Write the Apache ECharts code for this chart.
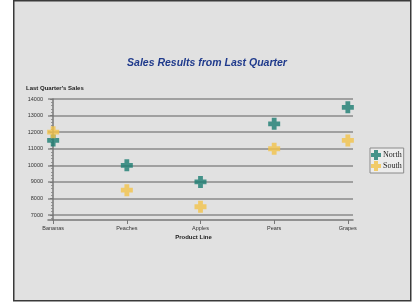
<!DOCTYPE html>
<html><head><meta charset="utf-8">
<script src="https://cdn.jsdelivr.net/npm/echarts@6/dist/echarts.min.js"></script>
<style>html,body{margin:0;padding:0;background:#fff;}#c{width:414px;height:306px;}</style>
</head><body><div id="c"></div>
<script>
const categories = ['Bananas', 'Peaches', 'Apples', 'Pears', 'Grapes'];
const northSales = [11500, 10000, 9000, 12500, 13500];
const southSales = [12000, 8500, 7500, 11000, 11500];
const yTicks = [7000, 8000, 9000, 10000, 11000, 12000, 13000, 14000];
const titleText = 'Sales Results from Last Quarter';
const yTitle = "Last Quarter's Sales";
const xTitle = 'Product Line';

const chart = echarts.init(document.getElementById('c'));
const cross = 'path://M3,0h4v3h3v4h-3v3h-4v-3h-3v-4h3z';
const toPts = arr => arr.map((v, i) => [i, v]);
chart.setOption({
  animation: false,
  backgroundColor: '#ffffff',
  graphic: [{
    type: 'rect', left: 13, top: 0, z: -10,
    shape: { width: 397, height: 300 },
    style: { fill: '#e1e1e1', stroke: '#3a3a3a', lineWidth: 1.5 }
  }, {
    type: 'text', left: 26, top: 85,
    style: { text: yTitle, font: 'bold 6px "Liberation Sans", Arial', fill: '#222' }
  }],
  title: {
    text: titleText, left: 'center', top: 53,
    textStyle: { fontFamily: '"Liberation Sans", Arial', fontSize: 10.5, fontWeight: 'bold', fontStyle: 'italic', color: '#1f3a8c' }
  },
  legend: {
    orient: 'vertical', left: 370, top: 148,
    itemWidth: 10, itemHeight: 10, itemGap: 1,
    padding: [2, 2, 2, 1],
    backgroundColor: '#ececec', borderColor: '#8a8a8a', borderWidth: 1,
    textStyle: { fontFamily: '"Liberation Serif", "Times New Roman", serif', fontSize: 8, color: '#222', padding: [0, 0, 0, -3] },
    data: [{ name: 'North', icon: cross }, { name: 'South', icon: cross }]
  },
  grid: { left: 48, right: 61, top: 99, bottom: 86 },
  xAxis: {
    type: 'value', min: -0.07, max: 4.07,
    name: xTitle, nameLocation: 'middle', nameGap: 14,
    nameTextStyle: { fontFamily: '"Liberation Sans", Arial', fontSize: 6, fontWeight: 'bold', color: '#222', padding: [0, 14, 0, 0] },
    axisLine: { show: true, lineStyle: { color: '#777', width: 1.5 } },
    axisTick: { show: true, length: 4, customValues: [0, 1, 2, 3, 4], lineStyle: { color: '#777' } },
    axisLabel: { customValues: [0, 1, 2, 3, 4], formatter: v => categories[Math.round(v)], fontFamily: '"Liberation Sans", Arial', fontSize: 5.5, color: '#333', margin: 5 },
    splitLine: { show: false }
  },
  yAxis: {
    type: 'value', min: 6700, max: 14000,
    axisLine: { show: true, lineStyle: { color: '#777', width: 1.5 } },
    axisTick: { show: true, length: 3, customValues: yTicks, lineStyle: { color: '#777' } },
    minorTick: { show: true, splitNumber: 5, length: 2, lineStyle: { color: '#888' } },
    axisLabel: { customValues: yTicks, formatter: v => String(v), fontFamily: '"Liberation Sans", Arial', fontSize: 5.5, color: '#333', margin: 5 },
    splitLine: { show: true, lineStyle: { color: '#8a8a8a', width: 1.6 } }
  },
  series: [
    { name: 'North', type: 'scatter', symbol: cross, symbolSize: 12, itemStyle: { color: '#1b7d72' }, data: toPts(northSales) },
    { name: 'South', type: 'scatter', symbol: cross, symbolSize: 12, itemStyle: { color: '#f3c34a' }, data: toPts(southSales) }
  ]
});
</script></body></html>
